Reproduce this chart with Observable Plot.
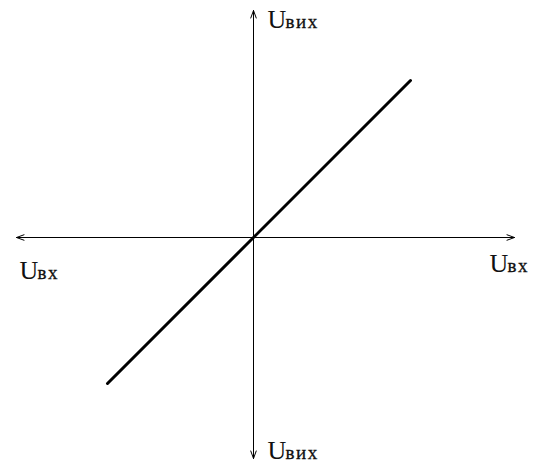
<!DOCTYPE html>
<html>
<head>
<meta charset="utf-8">
<script src="https://cdn.jsdelivr.net/npm/d3@7"></script>
<script src="https://cdn.jsdelivr.net/npm/@observablehq/plot@0.6"></script>
<style>
  html, body { margin: 0; padding: 0; background: #fff; }
  #chart { width: 547px; height: 465px; }
</style>
</head>
<body>
<div id="chart"></div>
<script>
// Axis extents (data units, origin at the axes' crossing)
const xAxisEnds = [-237, 261];
const yAxisEnds = [-221, 227];

// Transfer characteristic Uвих = k·Uвх (k = 1)
const lineUin = [-146, 157];
const lineUout = [-146, 157];

// Axis labels
const labelMain = ["U", "U", "U", "U"];
const labelSub = ["вих", "вих", "вх", "вх"];
const labelX = [14, 14, -234, 236];
const labelY = [210, -221, -41, -34];

const arrows = [
  {x1: 0, y1: 0, x2: xAxisEnds[0], y2: 0},
  {x1: 0, y1: 0, x2: xAxisEnds[1], y2: 0},
  {x1: 0, y1: 0, x2: 0, y2: yAxisEnds[0]},
  {x1: 0, y1: 0, x2: 0, y2: yAxisEnds[1]}
];
const lineData = lineUin.map((u, i) => ({u, v: lineUout[i]}));
const labels = labelMain.map((m, i) => ({m, s: labelSub[i], x: labelX[i], y: labelY[i]}));

const chart = Plot.plot({
  width: 547,
  height: 465,
  marginLeft: 16,
  marginRight: 33,
  marginTop: 10,
  marginBottom: 7,
  x: {domain: xAxisEnds, axis: null},
  y: {domain: yAxisEnds, axis: null},
  style: {background: "#fff", fontFamily: "'Liberation Serif', 'DejaVu Serif', serif"},
  marks: [
    Plot.arrow(arrows, {x1: "x1", y1: "y1", x2: "x2", y2: "y2", stroke: "#000", strokeWidth: 1, headLength: 12, headAngle: 40}),
    Plot.line(lineData, {x: "u", y: "v", stroke: "#000", strokeWidth: 3}),
    Plot.text(labels, {x: "x", y: "y", text: "m", textAnchor: "start", lineAnchor: "bottom", fontSize: 26, fill: "#111"}),
    Plot.text(labels, {x: "x", y: "y", text: "s", textAnchor: "start", lineAnchor: "bottom", fontSize: 19, dx: 18, fill: "#111"})
  ]
});
d3.select(chart).selectAll("text").filter(function() {
  const t = this.textContent; return t === "вих" || t === "вх";
}).attr("letter-spacing", "1.5").attr("stroke", "#111").attr("stroke-width", 0.3);
document.getElementById("chart").appendChild(chart);
</script>
</body>
</html>
